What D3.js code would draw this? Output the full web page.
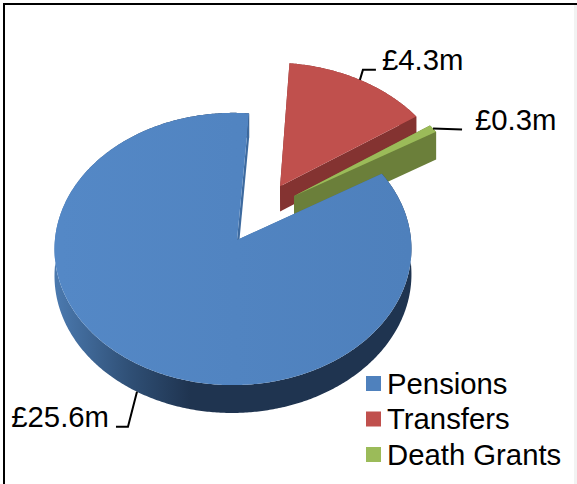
<!DOCTYPE html>
<html>
<head>
<meta charset="utf-8">
<style>
  html, body { margin: 0; padding: 0; background: #fff; }
  svg { display: block; }
  text { font-family: "Liberation Sans", Arial, sans-serif; fill: #000; }
</style>
<script src="https://cdn.jsdelivr.net/npm/d3@7"></script>
</head>
<body>
<svg id="chart" width="577" height="484"></svg>
<script>
// Fund outgoings, £ millions
const categories = ["Pensions", "Transfers", "Death Grants"];
const values = [25.6, 4.3, 0.3];
const topColors = ["url(#blueFace)", "#c0504d", "#9bbb59"];
const legendColors = ["#4f81bd", "#c0504d", "#9bbb59"];
const wallColors = ["url(#blueWall)", "#843331", "#6b7f3a"];

// How far each slice is pulled out of the disc, in disc units
const explodeX = [0, 0.25, 0.33];
const explodeY = [0, 0.41, 0.335];
// Pulled-out slices sit nearer the viewer and draw slightly larger
const reach = [1, 1.03, 1.03];
const wallDepth = [26, 26, 30];

const svg = d3.select("#chart");
const width = 577, height = 484;

svg.append("rect").attr("width", width).attr("height", height).attr("fill", "#fff");

const defs = svg.append("defs");
function hGradient(id, x1, x2, stops) {
  const grad = defs.append("linearGradient").attr("id", id)
    .attr("gradientUnits", "userSpaceOnUse")
    .attr("x1", x1).attr("x2", x2).attr("y1", 0).attr("y2", 0);
  stops.forEach(([o, c]) => grad.append("stop").attr("offset", o).attr("stop-color", c));
}
hGradient("blueWall", 58, 190, [[0, "#4a78ad"], [0.55, "#2f4f75"], [1, "#1f3450"]]);
hGradient("blueFace", 60, 410, [[0, "#5488c6"], [1, "#4e80bc"]]);

// Tilted view of the disc: a plane homography so the near edge reads larger
const view = { cx: 237, cy: 240, rx: 178, ry: 135.5, k: 0.066, j: 0.0225 };
function project(X, Y) {
  const w = 1 + view.k * Y + view.j * X;
  return { x: view.cx + view.rx * X / w, y: view.cy - view.ry * Y / w, w };
}
const facePt = p => [p.x, p.y];
const basePt = (p, i) => [p.x, p.y + wallDepth[i] / p.w];

const pie = d3.pie().sort(null)
  .startAngle(59 * Math.PI / 180)
  .endAngle((59 + 360) * Math.PI / 180)(values);

const line = d3.line();

function rimPoint(angle, i) {
  return project(
    reach[i] * Math.sin(angle) + explodeX[i],
    reach[i] * Math.cos(angle) + explodeY[i]);
}

function rim(slice, i) {
  const n = Math.max(2, Math.ceil((slice.endAngle - slice.startAngle) / 0.01));
  const a = d3.scaleLinear().domain([0, n]).range([slice.startAngle, slice.endAngle]);
  return d3.range(n + 1).map(t => rimPoint(a(t), i));
}

function hub(i) { return project(explodeX[i], explodeY[i]); }

// Painted back to front: the large slice overlaps the two pulled-out ones
[1, 2, 0].forEach(i => {
  const slice = pie[i];
  const r = rim(slice, i);
  const c = hub(i);
  const g = svg.append("g").attr("class", "slice-" + i);
  const rimWall = r.map(facePt).concat(r.slice().reverse().map(p => basePt(p, i)));
  g.append("path").attr("d", line(rimWall) + "Z").attr("fill", wallColors[i]);
  [r[0], r[r.length - 1]].forEach(edge => {
    const quad = [facePt(c), facePt(edge), basePt(edge, i), basePt(c, i)];
    const fill = i === 0 ? "#3d6a9f" : wallColors[i];
    g.append("path").attr("d", line(quad) + "Z").attr("fill", fill);
  });
  g.append("path").attr("d", line([facePt(c)].concat(r.map(facePt))) + "Z").attr("fill", topColors[i]);
});

// Value labels with elbow leaders, anchored on each slice's mid-angle
const labelOffset = [
  { text: [-28, 35], elbow: [[-9, 35], [-21, 35]], anchor: "end", wall: true },
  { text: [22, -10], elbow: [[3, -10], [16, -10]], anchor: "start", wall: false },
  { text: [42, 1], elbow: [[29, 1]], anchor: "start", wall: false }
];
const money = v => "£" + v + "m";

pie.forEach((slice, i) => {
  const mid = (slice.startAngle + slice.endAngle) / 2;
  const p = rimPoint(mid, i);
  const o = labelOffset[i];
  const [ax, ay] = o.wall ? basePt(p, i) : facePt(p);
  const pts = [[ax, ay]].concat(o.elbow.map(([dx, dy]) => [ax + dx, ay + dy]));
  svg.append("path").attr("d", line(pts)).attr("fill", "none")
    .attr("stroke", "#000").attr("stroke-width", 2);
  svg.append("text")
    .attr("x", ax + o.text[0]).attr("y", ay + o.text[1])
    .attr("text-anchor", o.anchor)
    .attr("font-size", 29.3)
    .text(money(values[i]));
});

// Legend
const legendY = d3.scalePoint().domain(categories).range([383.5, 454.5]);
const legend = svg.append("g").selectAll("g").data(categories).join("g");
legend.append("rect")
  .attr("x", 366).attr("y", d => legendY(d) - 7.5)
  .attr("width", 15).attr("height", 15)
  .attr("fill", (d, i) => legendColors[i]);
legend.append("text")
  .attr("x", 387).attr("y", d => legendY(d) + 10)
  .attr("font-size", 29.3)
  .text(d => d);

// Frame
svg.append("path").attr("d", "M4 484V4H577").attr("fill", "none")
  .attr("stroke", "#000").attr("stroke-width", 2);
svg.append("rect").attr("x", 574).attr("y", 5).attr("width", 3).attr("height", 479).attr("fill", "#f2f2f2");
</script>
</body>
</html>
